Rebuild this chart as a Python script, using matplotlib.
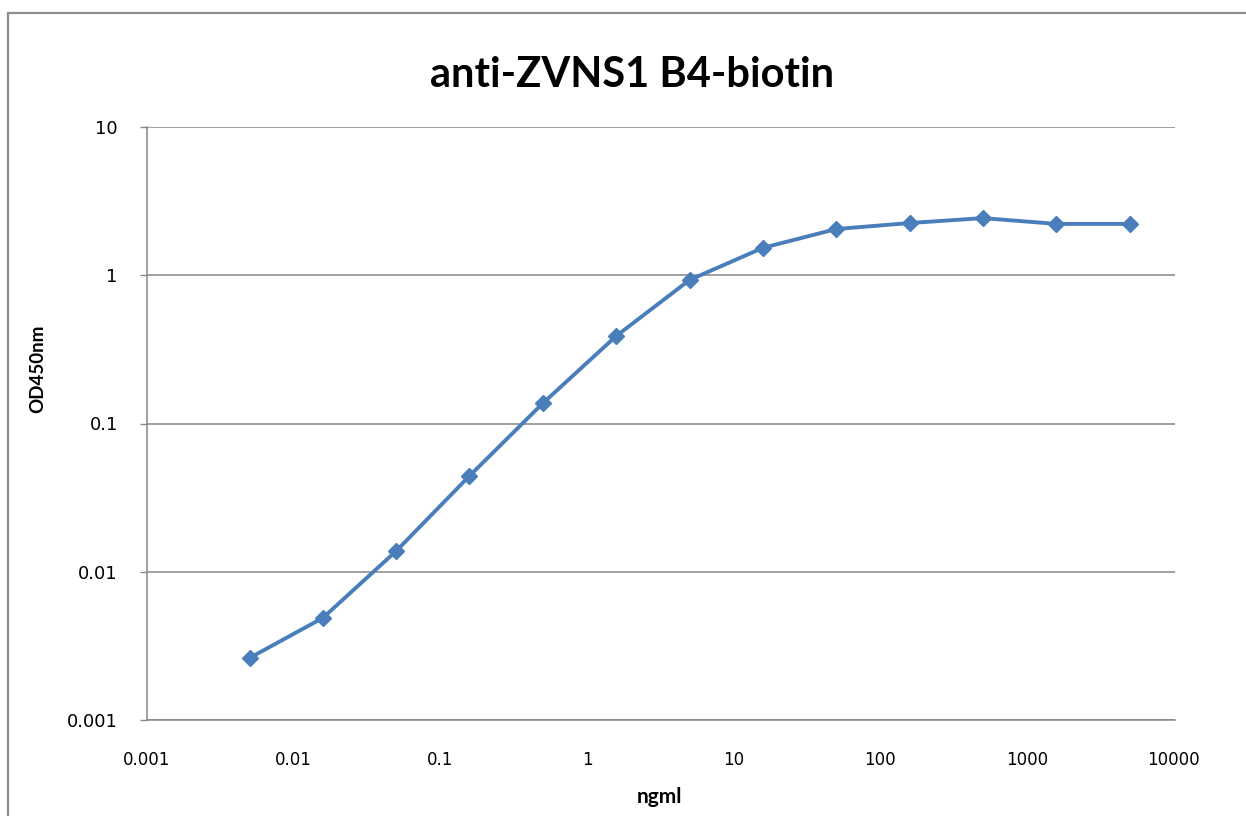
import matplotlib
matplotlib.use("Agg")
import matplotlib.pyplot as plt
from matplotlib.patches import Rectangle

# data (dilution series)
conc = [0.005, 0.0158, 0.05, 0.158, 0.5, 1.58, 5, 15.8, 50, 158, 500, 1581, 5000]
od450 = [0.00262, 0.00488, 0.0138, 0.0443, 0.137, 0.389, 0.929, 1.53, 2.05, 2.25, 2.43, 2.22, 2.22]

x_ticks = [0.001, 0.01, 0.1, 1, 10, 100, 1000, 10000]
x_ticklabels = ["0.001", "0.01", "0.1", "1", "10", "100", "1000", "10000"]
y_ticks = [0.001, 0.01, 0.1, 1, 10]
y_ticklabels = ["0.001", "0.01", "0.1", "1", "10"]

plt.rcParams['font.family'] = ['Lato', 'DejaVu Sans']

fig = plt.figure(figsize=(12.46, 8.16), dpi=100)
ax = fig.add_axes([147 / 1246, 1 - 720 / 816, (1175 - 147) / 1246, (720 - 127) / 816])

# outer chart frame (Excel style), running off the right/bottom edges
fig.patches.append(Rectangle((8 / 1246, -0.05), 1.2, 1 - 13 / 816 + 0.05,
                             transform=fig.transFigure, fill=False,
                             edgecolor="#8c8c8c", linewidth=1.6))

ax.plot(conc, od450, color="#4a7ebb", linewidth=2.8, marker="D",
        markersize=8.5, markerfacecolor="#4a7ebb", markeredgecolor="#4a7ebb",
        zorder=3)

ax.set_xscale("log")
ax.set_yscale("log")
ax.set_xlim(0.001, 10000 * 1.02)
ax.set_ylim(0.001, 10)

ax.set_xticks(x_ticks)
ax.set_xticklabels(x_ticklabels, fontdict={"family": "DejaVu Sans", "size": 12})
ax.set_yticks(y_ticks)
ax.set_yticklabels(y_ticklabels, fontdict={"family": "DejaVu Sans", "size": 13})
ax.minorticks_off()
ax.tick_params(axis="x", length=0, pad=22)
ax.tick_params(axis="y", length=5, width=1, color="#868686", pad=16)

ax.grid(axis="y", color="#868686", linewidth=1.1)
ax.set_axisbelow(True)
for s in ["top", "right"]:
    ax.spines[s].set_visible(False)
for s in ["left", "bottom"]:
    ax.spines[s].set_color("#868686")
    ax.spines[s].set_linewidth(1.1)

fig.text(632 / 1246, 1 - 87 / 816, "anti-ZVNS1 B4-biotin", ha="center", va="baseline",
         fontsize=30, fontweight="bold")
fig.text(660 / 1246, 1 - 803 / 816, "ngml", ha="center", va="baseline",
         fontsize=15, fontweight="bold")
fig.text(38 / 1246, 1 - 369 / 816, "OD450nm", ha="center", va="center",
         fontsize=13.5, fontweight="bold", rotation=90)

fig.savefig("out.png", dpi=100)
